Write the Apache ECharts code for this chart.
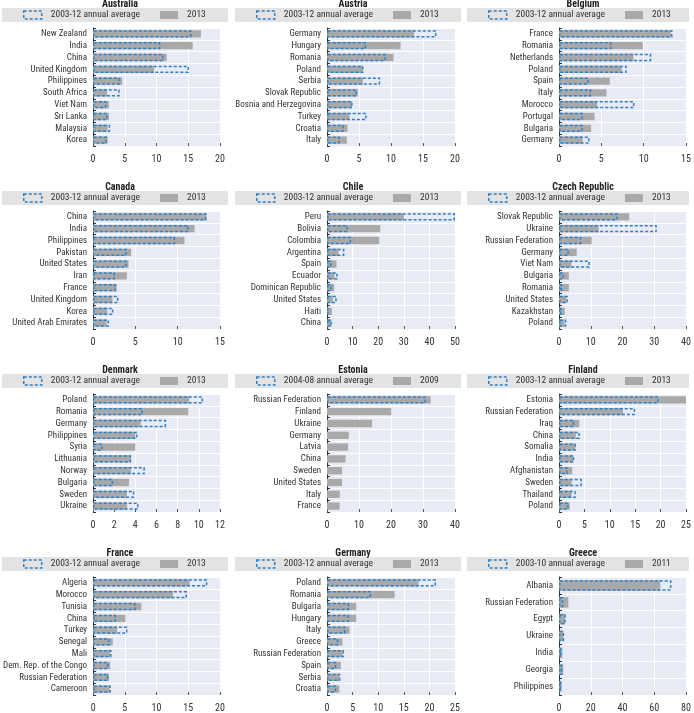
<!DOCTYPE html>
<html>
<head>
<meta charset="utf-8">
<script src="https://cdn.jsdelivr.net/npm/echarts@6/dist/echarts.min.js"></script>
<style>
  html, body { margin: 0; padding: 0; background: #fff; }
  #main { width: 694px; height: 713px; }
</style>
</head>
<body>
<div id="main"></div>
<script>
const fontFamily = '"Roboto Condensed", "DejaVu Sans Condensed", sans-serif';

/* 国家， 平均值， 最新年份 */
const australiaCountries = ['New Zealand', 'India', 'China', 'United Kingdom', 'Philippines', 'South Africa', 'Viet Nam', 'Sri Lanka', 'Malaysia', 'Korea'];
const australiaAvg = [15.5, 10.6, 11.1, 15.1, 4.2, 4.2, 2.1, 2.3, 2.7, 2.2];
const australiaLatest = [17.0, 15.7, 11.6, 9.6, 4.6, 2.2, 2.5, 2.5, 2.3, 2.3];

const austriaCountries = ['Germany', 'Hungary', 'Romania', 'Poland', 'Serbia', 'Slovak Republic', 'Bosnia and Herzegovina', 'Turkey', 'Croatia', 'Italy'];
const austriaAvg = [17.1, 6.1, 9.2, 5.7, 8.3, 4.7, 4.0, 6.2, 2.6, 2.0];
const austriaLatest = [13.6, 11.5, 10.4, 5.6, 5.6, 4.8, 3.9, 3.5, 3.2, 3.1];

const belgiumCountries = ['France', 'Romania', 'Netherlands', 'Poland', 'Spain', 'Italy', 'Morocco', 'Portugal', 'Bulgaria', 'Germany'];
const belgiumAvg = [13.4, 6.2, 10.9, 8.0, 3.5, 3.8, 8.9, 2.8, 2.8, 3.6];
const belgiumLatest = [13.2, 9.9, 8.8, 7.4, 6.0, 5.6, 4.5, 4.2, 3.8, 2.8];

const canadaCountries = ['China', 'India', 'Philippines', 'Pakistan', 'United States', 'Iran', 'France', 'United Kingdom', 'Korea', 'United Arab Emirates'];
const canadaAvg = [13.4, 11.3, 9.7, 4.0, 4.0, 2.6, 2.7, 3.0, 2.4, 1.9];
const canadaLatest = [13.4, 12.0, 10.8, 4.5, 4.2, 4.0, 2.8, 2.3, 1.7, 1.6];

const chileCountries = ['Peru', 'Bolivia', 'Colombia', 'Argentina', 'Spain', 'Ecuador', 'Dominican Republic', 'United States', 'Haiti', 'China'];
const chileAvg = [50.0, 8.1, 9.4, 6.8, 1.7, 4.2, 1.9, 3.8, 0.6, 1.9];
const chileLatest = [30.1, 20.8, 20.4, 4.5, 3.7, 2.9, 2.8, 2.3, 1.9, 1.7];

const czechCountries = ['Slovak Republic', 'Ukraine', 'Russian Federation', 'Germany', 'Viet Nam', 'Bulgaria', 'Romania', 'United States', 'Kazakhstan', 'Poland'];
const czechAvg = [18.5, 30.8, 7.0, 3.1, 9.7, 1.5, 1.0, 2.8, 0.8, 2.3];
const czechLatest = [22.1, 12.5, 10.3, 5.6, 3.9, 3.1, 3.1, 2.3, 1.8, 1.7];

const denmarkCountries = ['Poland', 'Romania', 'Germany', 'Philippines', 'Syria', 'Lithuania', 'Norway', 'Bulgaria', 'Sweden', 'Ukraine'];
const denmarkAvg = [10.4, 4.7, 6.9, 4.2, 0.9, 3.6, 4.9, 1.9, 3.9, 4.3];
const denmarkLatest = [9.1, 9.0, 4.5, 4.0, 4.0, 3.6, 3.6, 3.4, 3.2, 3.2];

const estoniaCountries = ['Russian Federation', 'Finland', 'Ukraine', 'Germany', 'Latvia', 'China', 'Sweden', 'United States', 'Italy', 'France'];
const estoniaAvg = [30.9, null, null, null, null, null, null, null, null, null];
const estoniaLatest = [32.4, 20.1, 14.1, 6.8, 6.6, 5.8, 4.7, 4.7, 4.0, 3.9];

const finlandCountries = ['Estonia', 'Russian Federation', 'Iraq', 'China', 'Somalia', 'India', 'Afghanistan', 'Sweden', 'Thailand', 'Poland'];
const finlandAvg = [19.6, 15.0, 3.0, 4.1, 3.3, 3.0, 1.7, 4.5, 3.3, 1.9];
const finlandLatest = [25.6, 12.6, 4.0, 3.3, 3.2, 2.8, 2.6, 2.5, 2.5, 2.1];

const franceCountries = ['Algeria', 'Morocco', 'Tunisia', 'China', 'Turkey', 'Senegal', 'Mali', 'Dem. Rep. of the Congo', 'Russian Federation', 'Cameroon'];
const franceAvg = [18.0, 14.8, 6.7, 3.6, 5.4, 2.6, 2.9, 2.4, 2.4, 2.8];
const franceLatest = [15.2, 12.6, 7.6, 5.1, 3.8, 3.1, 2.7, 2.7, 2.5, 2.6];

const germanyCountries = ['Poland', 'Romania', 'Bulgaria', 'Hungary', 'Italy', 'Greece', 'Russian Federation', 'Spain', 'Serbia', 'Croatia'];
const germanyAvg = [21.3, 8.6, 4.3, 4.3, 3.6, 2.2, 3.3, 1.8, 2.6, 1.8];
const germanyLatest = [17.9, 13.2, 5.7, 5.7, 4.4, 3.0, 3.0, 2.7, 2.4, 2.4];

const greeceCountries = ['Albania', 'Russian Federation', 'Egypt', 'Ukraine', 'India', 'Georgia', 'Philippines'];
const greeceAvg = [70.8, 2.7, 4.2, 3.2, 1.5, 2.1, 1.3];
const greeceLatest = [63.8, 5.9, 3.8, 2.7, 2.1, 2.7, 1.7];

const panels = [
    { title: 'Australia', countries: australiaCountries, avg: australiaAvg, latest: australiaLatest, avgName: '2003-12 annual average', latestName: '2013', max: 20, interval: 5 },
    { title: 'Austria', countries: austriaCountries, avg: austriaAvg, latest: austriaLatest, avgName: '2003-12 annual average', latestName: '2013', max: 20, interval: 5 },
    { title: 'Belgium', countries: belgiumCountries, avg: belgiumAvg, latest: belgiumLatest, avgName: '2003-12 annual average', latestName: '2013', max: 15, interval: 5 },
    { title: 'Canada', countries: canadaCountries, avg: canadaAvg, latest: canadaLatest, avgName: '2003-12 annual average', latestName: '2013', max: 15, interval: 5 },
    { title: 'Chile', countries: chileCountries, avg: chileAvg, latest: chileLatest, avgName: '2003-12 annual average', latestName: '2013', max: 50, interval: 10 },
    { title: 'Czech Republic', countries: czechCountries, avg: czechAvg, latest: czechLatest, avgName: '2003-12 annual average', latestName: '2013', max: 40, interval: 10 },
    { title: 'Denmark', countries: denmarkCountries, avg: denmarkAvg, latest: denmarkLatest, avgName: '2003-12 annual average', latestName: '2013', max: 12, interval: 2 },
    { title: 'Estonia', countries: estoniaCountries, avg: estoniaAvg, latest: estoniaLatest, avgName: '2004-08 annual average', latestName: '2009', max: 40, interval: 10 },
    { title: 'Finland', countries: finlandCountries, avg: finlandAvg, latest: finlandLatest, avgName: '2003-12 annual average', latestName: '2013', max: 25, interval: 5 },
    { title: 'France', countries: franceCountries, avg: franceAvg, latest: franceLatest, avgName: '2003-12 annual average', latestName: '2013', max: 20, interval: 5 },
    { title: 'Germany', countries: germanyCountries, avg: germanyAvg, latest: germanyLatest, avgName: '2003-12 annual average', latestName: '2013', max: 25, interval: 5 },
    { title: 'Greece', countries: greeceCountries, avg: greeceAvg, latest: greeceLatest, avgName: '2003-10 annual average', latestName: '2011', max: 80, interval: 20 }
];

// 布局
const colPlotLeft = [93, 327, 559];
const colPlotWidth = [127, 128, 127];
const colBandLeft = [2, 235, 467];
const colBandWidth = [226, 226, 222];
const rowTop = [-8, 175, 358, 541];

const dashedStyle = { color: 'rgba(0,0,0,0)', borderColor: '#2f80c3', borderWidth: 1.5, borderType: [3, 2] };
const greyStyle = { color: '#a9a9a9' };

let titles = [], legends = [], grids = [], xAxes = [], yAxes = [], series = [], graphics = [];

panels.forEach((p, i) => {
    let col = i % 3, row = Math.floor(i / 3);
    let T = rowTop[row];
    let bandCenter = colBandLeft[col] + colBandWidth[col] / 2;

    graphics.push({
        type: 'rect', silent: true, z: -1,
        shape: { x: colBandLeft[col], y: T + 16, width: colBandWidth[col], height: 14 },
        style: { fill: '#e3e3e3' }
    });

    titles.push({
        text: p.title, left: bandCenter, top: T + 2, textAlign: 'center',
        textStyle: { fontFamily: fontFamily, fontSize: 10, fontWeight: 'bold', color: '#222' }
    });

    legends.push({
        left: colBandLeft[col] + 21, top: T + 18, padding: 0, width: 260,
        itemWidth: 18, itemHeight: 8, itemGap: 20,
        selectedMode: false,
        textStyle: { fontFamily: fontFamily, fontSize: 9.5, color: '#333', padding: [0, 0, 0, 4] },
        data: [
            { name: p.avgName, icon: 'rect', itemStyle: dashedStyle },
            { name: p.latestName, icon: 'rect', itemStyle: greyStyle }
        ]
    });

    grids.push({
        left: colPlotLeft[col], top: T + 36, width: colPlotWidth[col], height: 118,
        show: true, backgroundColor: '#e8eaf5', borderWidth: 0
    });

    xAxes.push({
        type: 'value', gridIndex: i, min: 0, max: p.max, interval: p.interval,
        axisLine: { show: false },
        axisTick: { show: true, inside: true, length: 3, lineStyle: { color: '#555' } },
        axisLabel: { fontFamily: fontFamily, fontSize: 10, color: '#333', margin: 8 },
        splitLine: { show: true, lineStyle: { color: '#ffffff', width: 1 } }
    });

    yAxes.push({
        type: 'category', gridIndex: i, data: p.countries, inverse: true,
        axisLine: { show: true, lineStyle: { color: '#333', width: 1 } },
        axisTick: { show: true, inside: true, length: 3, lineStyle: { color: '#333' } },
        axisLabel: { fontFamily: fontFamily, fontSize: 9, color: '#333', margin: 6, interval: 0 },
        splitLine: { show: true, interval: 0, lineStyle: { color: '#ffffff', width: 1 } }
    });

    series.push({
        name: p.latestName, type: 'bar', xAxisIndex: i, yAxisIndex: i,
        data: p.latest, barWidth: '62%', barGap: '-100%',
        itemStyle: greyStyle, z: 2, silent: true
    });
    series.push({
        name: p.avgName, type: 'bar', xAxisIndex: i, yAxisIndex: i,
        data: p.avg, barWidth: '62%', barGap: '-100%',
        itemStyle: dashedStyle, z: 3, silent: true
    });
});

let myEchart = echarts.init(document.getElementById('main'));
myEchart.setOption({
    animation: false,
    title: titles,
    legend: legends,
    grid: grids,
    xAxis: xAxes,
    yAxis: yAxes,
    series: series,
    graphic: graphics
});
</script>
</body>
</html>
